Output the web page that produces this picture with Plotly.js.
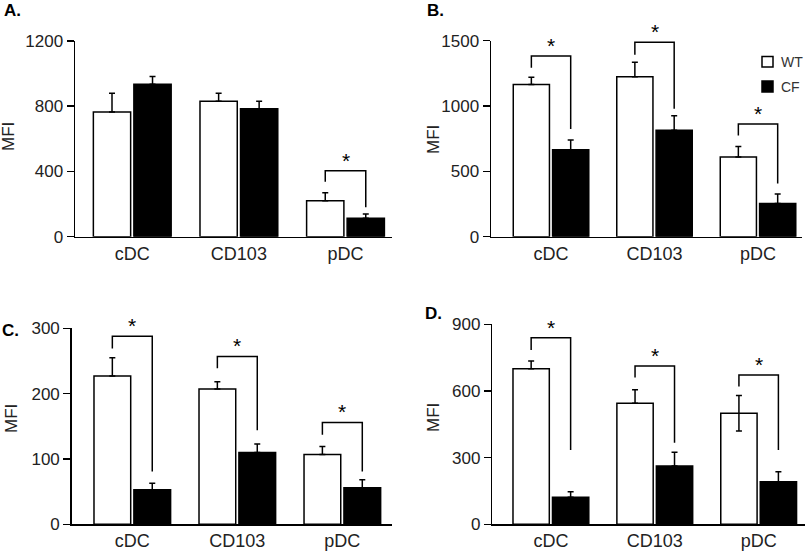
<!DOCTYPE html>
<html>
<head>
<meta charset="utf-8">
<script src="https://cdn.plot.ly/plotly-3.0.1.min.js"></script>
<style>
  body { margin: 0; background: #fff; }
  #chart { width: 810px; height: 554px; }
</style>
</head>
<body>
<div id="chart"></div>
<script>
// cell types on the x axis
var categories = ['cDC', 'CD103', 'pDC'];

// panel A
var wtA = [765, 830, 220];
var wtErrA = [115, 50, 50];
var cfA = [935, 785, 113];
var cfErrA = [47, 45, 26];

// panel B
var wtB = [1165, 1225, 610];
var wtErrB = [55, 110, 80];
var cfB = [665, 815, 255];
var cfErrB = [75, 110, 72];

// panel C
var wtC = [227, 207, 107];
var wtErrC = [28, 11, 12];
var cfC = [53, 110, 56];
var cfErrC = [10, 13, 12];

// panel D
var wtD = [700, 545, 500];
var wtErrD = [35, 60, 80];
var wtErrMinusD = [0, 0, 80];
var cfD = [122, 262, 192];
var cfErrD = [25, 62, 45];

// y tick values per panel
var ticksA = [0, 400, 800, 1200];
var ticksB = [0, 500, 1000, 1500];
var ticksC = [0, 100, 200, 300];
var ticksD = [0, 300, 600, 900];

// significance brackets: [category index, left leg bottom, bracket top, right leg bottom]
var sigA = [[2, 337, 405, 180]];
var sigB = [[0, 1293, 1383, 825], [1, 1393, 1488, 980], [2, 775, 863, 408]];
var sigC = [[0, 269, 288, 81], [1, 239, 257, 144], [2, 137, 156, 81]];
var sigD = [[0, 784, 840, 334], [1, 661, 712, 367], [2, 620, 672, 334]];

var W = 810, H = 554;
function px(x) { return x / W; }
function py(y) { return 1 - y / H; }

var FONT = 'Liberation Sans, Arial, sans-serif';
var BARGAP = 0.24;
var half = (1 - BARGAP) / 4;

var panels = [
  {ax: '', wt: wtA, wtErr: wtErrA, cf: cfA, cfErr: cfErrA, ticks: ticksA, sig: sigA,
   xdom: [75, 392], ydom: [41, 236.7], xr: [-0.537, 2.436]},
  {ax: '2', wt: wtB, wtErr: wtErrB, cf: cfB, cfErr: cfErrB, ticks: ticksB, sig: sigB,
   xdom: [491, 802], ydom: [40.7, 236.7], xr: [-0.58, 2.425]},
  {ax: '3', wt: wtC, wtErr: wtErrC, cf: cfC, cfErr: cfErrC, ticks: ticksC, sig: sigC,
   xdom: [71.7, 391.7], ydom: [328.3, 524.3], xr: [-0.577, 2.47]},
  {ax: '4', wt: wtD, wtErr: wtErrD, wtErrMinus: wtErrMinusD, cf: cfD, cfErr: cfErrD, ticks: ticksD, sig: sigD,
   xdom: [492.3, 805], ydom: [324.3, 524.3], xr: [-0.564, 2.446]}
];

var data = [];
var layout = {
  width: W,
  height: H,
  margin: {l: 0, r: 0, t: 0, b: 0},
  paper_bgcolor: '#fff',
  plot_bgcolor: 'rgba(0,0,0,0)',
  showlegend: false,
  barmode: 'group',
  bargap: BARGAP,
  bargroupgap: 0.08,
  font: {family: FONT, color: '#222', size: 16},
  shapes: [],
  annotations: []
};

panels.forEach(function (p) {
  var xa = 'x' + p.ax, ya = 'y' + p.ax;
  var zeros = p.wt.map(function () { return 0; });
  data.push({
    type: 'bar', name: 'WT', x: [0, 1, 2], y: p.wt, xaxis: xa, yaxis: ya,
    marker: {color: '#fff', line: {color: '#000', width: 1.5}},
    error_y: {type: 'data', symmetric: false, array: p.wtErr,
              arrayminus: p.wtErrMinus || zeros, color: '#000', thickness: 1.5, width: 3}
  });
  data.push({
    type: 'bar', name: 'CF', x: [0, 1, 2], y: p.cf, xaxis: xa, yaxis: ya,
    marker: {color: '#000', line: {color: '#000', width: 1.5}},
    error_y: {type: 'data', symmetric: false, array: p.cfErr,
              arrayminus: zeros, color: '#000', thickness: 1.5, width: 3}
  });

  layout['xaxis' + p.ax] = {
    domain: [px(p.xdom[0]), px(p.xdom[1])],
    anchor: ya,
    range: p.xr,
    tickvals: [0, 1, 2],
    ticktext: categories,
    ticks: '',
    showline: true, linecolor: '#000', linewidth: 1.5,
    showgrid: false, zeroline: false,
    tickfont: {size: 18, family: FONT, color: '#222'},
    fixedrange: true
  };
  layout['yaxis' + p.ax] = {
    domain: [py(p.ydom[1]), py(p.ydom[0])],
    anchor: xa,
    range: [0, p.ticks[p.ticks.length - 1]],
    tickvals: p.ticks,
    ticks: 'outside', ticklen: 7, tickwidth: 1.5, tickcolor: '#000',
    showline: true, linecolor: '#000', linewidth: 1.5,
    showgrid: false, zeroline: false,
    tickfont: {size: 17, family: FONT, color: '#222'},
    fixedrange: true
  };

  p.sig.forEach(function (s) {
    var c = s[0], xl = c - half, xr = c + half;
    layout.shapes.push({
      type: 'path', xref: xa, yref: ya,
      path: 'M' + xl + ',' + s[1] + ' L' + xl + ',' + s[2] + ' L' + xr + ',' + s[2] + ' L' + xr + ',' + s[3],
      line: {color: '#000', width: 1.5}
    });
    layout.annotations.push({
      xref: xa, yref: ya, x: c, y: s[2], text: '*', showarrow: false,
      yanchor: 'bottom', yshift: -3, font: {size: 21, family: FONT, color: '#000'}
    });
  });
});

// panel letters
[['A.', 2, 10], ['B.', 425, 11], ['C.', 0, 330], ['D.', 423, 313]].forEach(function (l) {
  layout.annotations.push({
    xref: 'paper', yref: 'paper', x: px(l[1]), y: py(l[2]), text: '<b>' + l[0] + '</b>',
    xanchor: 'left', yanchor: 'middle', showarrow: false,
    font: {size: 17, family: FONT, color: '#000'}
  });
});

// y axis titles
[[9, 137], [433, 140], [11, 419], [433, 418]].forEach(function (m) {
  layout.annotations.push({
    xref: 'paper', yref: 'paper', x: px(m[0]), y: py(m[1]), text: 'MFI', textangle: -90,
    xanchor: 'center', yanchor: 'middle', showarrow: false,
    font: {size: 17, family: FONT, color: '#222'}
  });
});

// legend in panel B
layout.shapes.push({type: 'rect', xref: 'paper', yref: 'paper',
  x0: px(762), x1: px(773), y0: py(67), y1: py(56.5),
  fillcolor: '#fff', line: {color: '#000', width: 1.5}});
layout.shapes.push({type: 'rect', xref: 'paper', yref: 'paper',
  x0: px(762), x1: px(773), y0: py(92), y1: py(81),
  fillcolor: '#000', line: {color: '#000', width: 1.5}});
layout.annotations.push({xref: 'paper', yref: 'paper', x: px(779), y: py(62),
  text: 'WT', xanchor: 'left', yanchor: 'middle', showarrow: false,
  font: {size: 14, family: FONT, color: '#333'}});
layout.annotations.push({xref: 'paper', yref: 'paper', x: px(779), y: py(86.5),
  text: 'CF', xanchor: 'left', yanchor: 'middle', showarrow: false,
  font: {size: 14, family: FONT, color: '#333'}});

Plotly.newPlot('chart', data, layout, {displayModeBar: false, staticPlot: true});
</script>
</body>
</html>
